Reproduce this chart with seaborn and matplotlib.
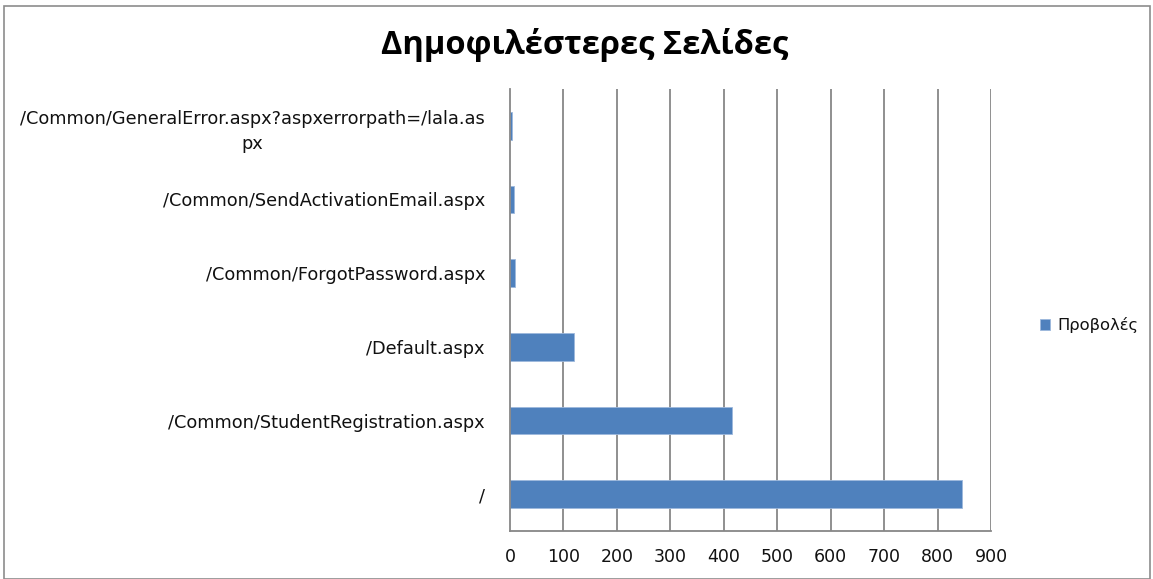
import matplotlib
matplotlib.use("Agg")
import matplotlib.pyplot as plt
import seaborn as sns
import pandas as pd
import numpy as np
from matplotlib.patches import Rectangle

pages = [
    "/Common/GeneralError.aspx?aspxerrorpath=/lala.as\npx",
    "/Common/SendActivationEmail.aspx",
    "/Common/ForgotPassword.aspx",
    "/Default.aspx",
    "/Common/StudentRegistration.aspx",
    "/",
]
views = [4, 7, 9, 120, 416, 845]
series_name = "Προβολές"
title = "Δημοφιλέστερες Σελίδες"
xticks = [0, 100, 200, 300, 400, 500, 600, 700, 800, 900]

sns.set_style("white")
plt.rcParams['font.family'] = ['DejaVu Sans']
plt.rcParams['font.sans-serif'] = ['DejaVu Sans']
plt.rcParams['text.color'] = '#111111'
plt.rcParams['xtick.color'] = '#111111'
plt.rcParams['ytick.color'] = '#111111'

df = pd.DataFrame({"page": pages, "views": views, "series": series_name})

fig = plt.figure(figsize=(11.53, 5.79), dpi=100)
W, H = 1153, 579
ax = fig.add_axes([510 / W, (H - 531) / H, (991 - 510) / W, (531 - 89) / H])

grid_c = "#878787"
ax.set_axisbelow(True)
for xv in xticks[1:]:
    ax.axvline(xv, color=grid_c, lw=1.3, zorder=0)

sns.barplot(data=df, x="views", y="page", hue="series", palette=["#4F81BD"],
            width=0.38, orient="h", ax=ax, edgecolor="#9DB8DC", linewidth=0.6,
            saturation=1)

ax.set_xlim(0, 900)
ax.set_ylim(5.5, -0.5)
ax.set_xticks(xticks)
ax.set_xticklabels([str(v) for v in xticks], fontsize=12.5, family="DejaVu Sans")
ax.set_xlabel("")
ax.set_ylabel("")
ax.set_yticks(range(len(pages)))
ax.set_yticklabels(pages, fontsize=12.8, ha="right", multialignment="center",
                   family="DejaVu Sans", linespacing=1.5)
ax.tick_params(axis="y", length=0, pad=18)
ax.set_yticks(np.arange(-0.5, len(pages), 1.0), minor=True)
ax.tick_params(axis="y", which="minor", length=6, color=grid_c, width=1.3, direction="out")
ax.tick_params(axis="x", length=6, color=grid_c, width=1.3, direction="out", pad=6)

for s in ["top", "right"]:
    ax.spines[s].set_visible(False)
for s in ["left", "bottom"]:
    ax.spines[s].set_color(grid_c)
    ax.spines[s].set_linewidth(1.3)

leg = ax.legend(loc="center left", bbox_to_anchor=(1.072, 0.465), frameon=False,
                prop={"family": "DejaVu Sans", "size": 11.8},
                handlelength=0.6, handleheight=0.6, handletextpad=0.45)

fig.text(585 / W, 1 - 45 / H, title, ha="center", va="center",
         fontsize=23.5, fontweight="bold", family=["Open Sans", "DejaVu Sans"],
         color="black")

fig.patches.append(Rectangle((4 / W, 0), (1150 - 4) / W, 1 - 6 / H,
                             transform=fig.transFigure, fill=False,
                             edgecolor="#8c8c8c", lw=1.2))

fig.savefig("out.png", dpi=100)
